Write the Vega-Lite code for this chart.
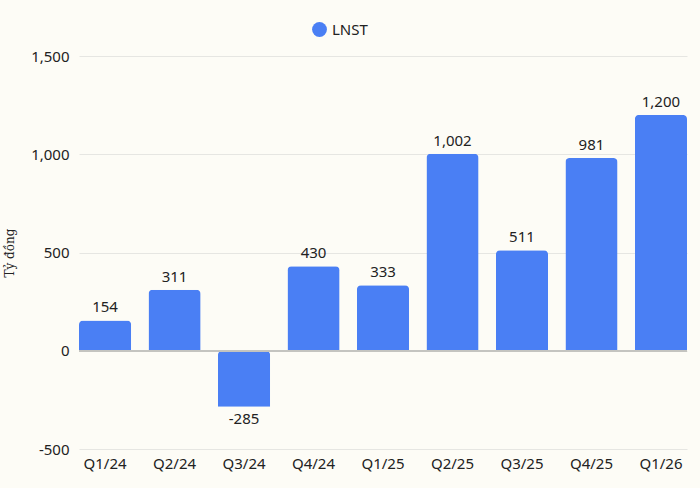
{
  "$schema": "https://vega.github.io/schema/vega-lite/v6.json",
  "width": 608,
  "height": 393,
  "autosize": "none",
  "padding": {"left": 79, "top": 56, "right": 13, "bottom": 39},
  "background": "#fdfcf6",
  "config": {
    "view": {"stroke": null},
    "font": "Noto Sans",
    "axis": {"labelFont": "Noto Sans", "labelColor": "#222", "labelFontSize": 15}
  },
  "data": {
    "values": [
      {"q": "Q1/24", "v": 154, "s": "LNST"},
      {"q": "Q2/24", "v": 311, "s": "LNST"},
      {"q": "Q3/24", "v": -285, "s": "LNST"},
      {"q": "Q4/24", "v": 430, "s": "LNST"},
      {"q": "Q1/25", "v": 333, "s": "LNST"},
      {"q": "Q2/25", "v": 1002, "s": "LNST"},
      {"q": "Q3/25", "v": 511, "s": "LNST"},
      {"q": "Q4/25", "v": 981, "s": "LNST"},
      {"q": "Q1/26", "v": 1200, "s": "LNST"}
    ]
  },
  "encoding": {
    "x": {
      "field": "q", "type": "nominal", "sort": null,
      "scale": {"paddingInner": 0.25, "paddingOuter": 0},
      "axis": {"title": null, "labelAngle": 0, "ticks": false, "domain": false, "labelPadding": 7}
    }
  },
  "layer": [
    {
      "mark": {"type": "bar", "cornerRadiusEnd": 4},
      "encoding": {
        "y": {
          "field": "v", "type": "quantitative",
          "scale": {"domain": [-500, 1500], "nice": false},
          "axis": {
            "values": [-500, 0, 500, 1000, 1500],
            "title": "Tỷ đồng", "titleFont": "DejaVu Serif", "titleFontSize": 12, "titleFontWeight": "normal", "titleColor": "#222", "titlePadding": 14,
            "domain": false, "ticks": false, "labelPadding": 10,
            "gridColor": "#e6e6e2", "format": ",d",
            "labelExpr": "replace(datum.label, '\u2212', '-')"
          }
        },
        "color": {
          "field": "s", "type": "nominal",
          "scale": {"range": ["#4a7ff4"]},
          "legend": {
            "title": null, "orient": "none", "legendX": 232, "legendY": -35,
            "symbolType": "circle", "symbolSize": 220, "labelFontSize": 15, "labelColor": "#222", "labelFont": "Noto Sans"
          }
        }
      }
    },
    {
      "mark": {"type": "rule", "color": "#c4c4c0", "strokeWidth": 1.5},
      "encoding": {"y": {"datum": 0, "type": "quantitative"}, "x": null}
    },
    {
      "transform": [{"filter": "datum.v >= 0"}],
      "mark": {"type": "text", "baseline": "bottom", "dy": -5, "fontSize": 15, "color": "#222"},
      "encoding": {
        "y": {"field": "v", "type": "quantitative"},
        "text": {"field": "v", "type": "quantitative", "format": ",d"}
      }
    },
    {
      "transform": [{"filter": "datum.v < 0"}],
      "mark": {"type": "text", "baseline": "top", "dy": 5, "fontSize": 15, "color": "#222"},
      "encoding": {
        "y": {"field": "v", "type": "quantitative"},
        "text": {"field": "v", "type": "nominal"}
      }
    }
  ]
}
